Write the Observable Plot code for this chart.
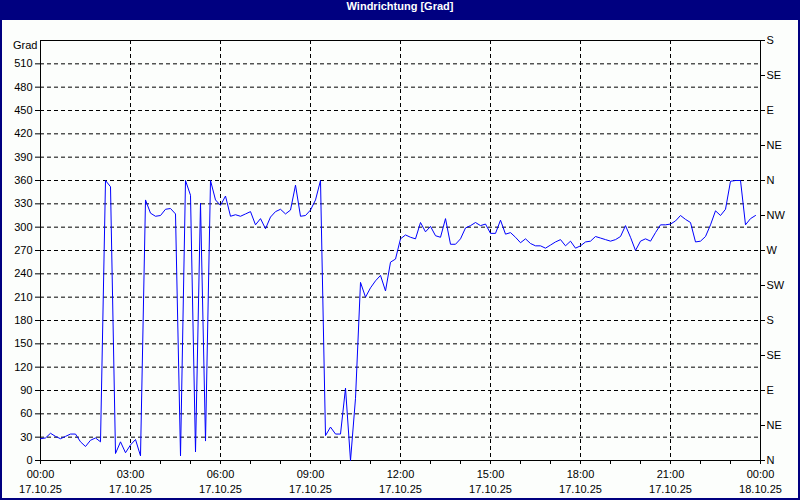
<!DOCTYPE html>
<html>
<head>
<meta charset="utf-8">
<script src="https://cdn.jsdelivr.net/npm/d3@7"></script>
<script src="https://cdn.jsdelivr.net/npm/@observablehq/plot@0.6"></script>
<style>
  html, body { margin: 0; padding: 0; background: #fcfefc; }
  #wrap { position: relative; width: 800px; height: 500px; overflow: hidden; background: #fcfefc; }
  #title { height: 20px; line-height: 20px; background: #000080; color: #ffffff; text-align: center;
           font: bold 11px "Liberation Sans", Arial, sans-serif; }
  #border { position: absolute; left: 0; top: 0; width: 800px; height: 500px; box-sizing: border-box;
            border: 2px solid #000080; border-top: none; pointer-events: none; }
  #chart svg { display: block; }
</style>
</head>
<body>
<div id="wrap">
  <div id="title">Windrichtung [Grad]</div>
  <div id="chart"></div>
  <div id="border"></div>
</div>
<script>
// Wind direction in degrees, one reading every 10 minutes from 17.10.25 00:00
const startTime = Date.UTC(2025, 9, 17, 0, 0);
const stepMinutes = 10;
const values = [
  28, 29, 35, 31, 28, 31, 34, 34, 24, 18,
  26, 29, 24, 360, 352, 9, 24, 10, 20, 27,
  6, 335, 318, 314, 315, 323, 324, 317, 6, 360,
  341, 11, 331, 25, 360, 335, 328, 340, 314, 316,
  314, 317, 320, 303, 311, 298, 313, 320, 323, 317,
  322, 354, 314, 315, 322, 335, 360, 32, 43, 34,
  34, 93, 0, 80, 229, 210, 222, 231, 238, 218,
  255, 259, 285, 290, 287, 285, 306, 294, 301, 289,
  287, 311, 278, 278, 285, 299, 302, 306, 302, 304,
  292, 292, 309, 291, 293, 287, 280, 285, 279, 276,
  276, 273, 277, 281, 284, 276, 282, 273, 276, 281,
  282, 288, 286, 284, 282, 284, 288, 302, 287, 270,
  282, 285, 282, 293, 303, 303, 304, 308, 315, 310,
  306, 281, 282, 288, 303, 321, 315, 323, 359, 360,
  360, 303, 311, 315
];

const leftTicks = [0, 30, 60, 90, 120, 150, 180, 210, 240, 270, 300, 330, 360, 390, 420, 450, 480, 510];
const gridDegrees = [30, 60, 90, 120, 150, 180, 210, 240, 270, 300, 330, 360, 390, 420, 450, 480, 510];
const rightTicks = [0, 45, 90, 135, 180, 225, 270, 315, 360, 405, 450, 495, 540];
const rightLabels = ["N", "NE", "E", "SE", "S", "SW", "W", "NW", "N", "NE", "E", "SE", "S"];
const hourOffsets = [0,1,2,3,4,5,6,7,8,9,10,11,12,13,14,15,16,17,18,19,20,21,22,23,24];
const labelHourOffsets = [0, 3, 6, 9, 12, 15, 18, 21, 24];
const gridHourOffsets = [3, 6, 9, 12, 15, 18, 21];

const hourMs = 3600000;
const toDate = h => new Date(startTime + h * hourMs);
const data = values.map((v, i) => ({t: new Date(startTime + i * stepMinutes * 60000), v}));
const fmtTime = d3.utcFormat("%H:%M");
const fmtDate = d3.utcFormat("%d.%m.%y");

const chart = Plot.plot({
  width: 800,
  height: 480,
  marginLeft: 40,
  marginRight: 40,
  marginTop: 20,
  marginBottom: 40,
  style: {background: "#fcfefc", fontFamily: "'Liberation Sans', Arial, sans-serif", fontSize: "11px", color: "black"},
  x: {type: "utc", domain: [toDate(0), toDate(24)]},
  y: {domain: [0, 540]},
  marks: [
    Plot.gridY(gridDegrees, {stroke: "black", strokeOpacity: 1, strokeDasharray: "4,3"}),
    Plot.gridX(gridHourOffsets.map(toDate), {stroke: "black", strokeOpacity: 1, strokeDasharray: "4,3"}),
    Plot.axisY(leftTicks, {anchor: "left", tickSize: 5, tickPadding: 3, label: null}),
    Plot.axisY(rightTicks, {anchor: "right", tickSize: 4, tickPadding: 2, label: null,
      tickFormat: d => rightLabels[rightTicks.indexOf(d)]}),
    Plot.axisX(hourOffsets.map(toDate), {tickSize: 4, tickPadding: 6, label: null,
      tickFormat: d => (labelHourOffsets.includes((d - startTime) / hourMs) ? fmtTime(d) : "")}),
    Plot.axisX(labelHourOffsets.map(toDate), {tickSize: 0, tickPadding: 25, label: null,
      tickFormat: d => fmtDate(d)}),
    Plot.frame({stroke: "black"}),
    Plot.line(data, {x: "t", y: "v", stroke: "#0000ff", strokeWidth: 1}),
    Plot.text(["Grad"], {frameAnchor: "top-left", textAnchor: "end", dx: -3, dy: 1, fill: "black"})
  ]
});
document.getElementById("chart").appendChild(chart);
</script>
</body>
</html>
